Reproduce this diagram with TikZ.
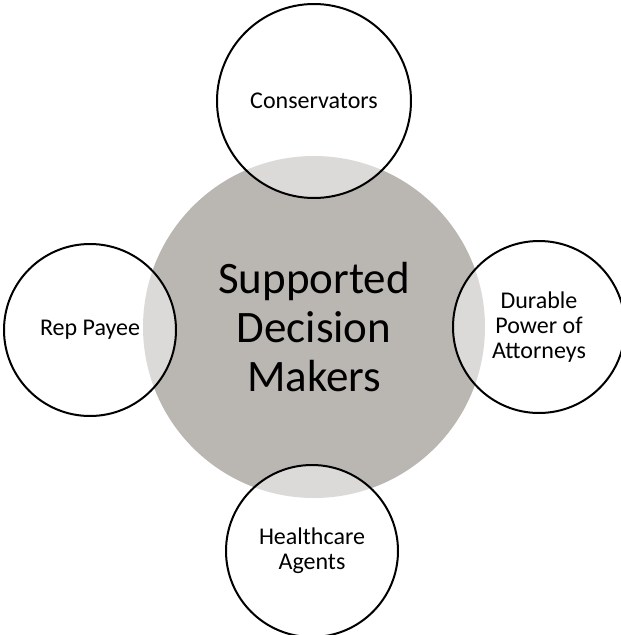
\documentclass[tikz,border=0pt]{standalone}
\usepackage{fontspec}
\setmainfont{Carlito}
\definecolor{hubgray}{HTML}{BAB6B2}
\begin{document}
\begin{tikzpicture}[x=1pt,y=-1pt,
  hub/.style={circle,fill=hubgray,minimum size=342pt,inner sep=0pt,align=center,font=\fontsize{45}{49}\selectfont},
  sat/.style={circle,draw=black,line width=2pt,fill=white,fill opacity=0.5,text opacity=1,inner sep=0pt,align=center,font=\fontsize{24}{25}\selectfont}]
\useasboundingbox (0,0) rectangle (621,635);
\node[hub] (c) at (314,327) {Supported\\Decision\\Makers};
\node[sat,minimum size=194pt] (t) at (314,101) {Conservators};
\node[sat,minimum size=172pt] (l) at (90,330) {Rep Payee};
\node[sat,minimum size=172pt] (r) at (539,327) {Durable\\Power of\\Attorneys};
\node[sat,minimum size=172pt] (b) at (312,551) {Healthcare\\Agents};
\end{tikzpicture}
\end{document}
